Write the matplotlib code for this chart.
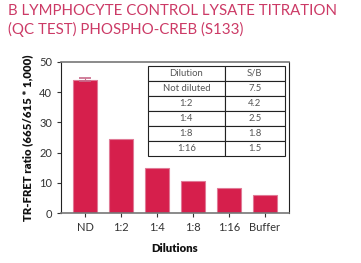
import matplotlib
matplotlib.use("Agg")
import matplotlib.pyplot as plt
import numpy as np

categories = ["ND", "1:2", "1:4", "1:8", "1:16", "Buffer"]
values = [44.2, 24.6, 14.8, 10.6, 8.4, 5.9]
nd_error = 0.6
table_dilution = ["Not diluted", "1:2", "1:4", "1:8", "1:16"]
table_sb = ["7.5", "4.2", "2.5", "1.8", "1.5"]

plt.rcParams['font.family'] = ['Lato', 'DejaVu Sans']

fig = plt.figure(figsize=(3.61, 2.63), dpi=100)
ax = fig.add_axes([61/361, 50/263, 228/361, 151/263])

x = np.arange(len(categories))
ax.bar(x, values, width=0.67, color="#d61f4c", edgecolor="#e07a96", linewidth=0.8)
ax.errorbar(x[0], values[0], yerr=nd_error, fmt="none", ecolor="#c86a8a",
            capsize=4, elinewidth=0.8, capthick=1.2)
ax.set_xlim(-0.67, 5.67)
ax.set_ylim(0, 50)
ax.set_yticks([0, 10, 20, 30, 40, 50])
ax.set_xticks(x)
ax.set_xticklabels(categories)
ax.tick_params(labelsize=8, colors="#333333", length=3, width=0.8)
for s in ["top", "bottom"]:
    ax.spines[s].set_color("#777777")
    ax.spines[s].set_linewidth(1.2)
ax.spines["left"].set_color("#222222")
ax.spines["right"].set_color("#222222")
ax.set_ylabel("TR-FRET ratio (665/615 * 1,000)", fontsize=8.2, fontweight="heavy", color="#111111", labelpad=4)
ax.set_xlabel("Dilutions", fontsize=8.2, fontweight="heavy", color="#111111", labelpad=7)

cell_text = [["Dilution", "S/B"]] + [[d, s] for d, s in zip(table_dilution, table_sb)]
tb = ax.table(cellText=cell_text, cellLoc="center",
              bbox=[(148-61)/228, (213-156)/151, (285-148)/228, 90/151],
              colWidths=[0.56, 0.44])
tb.auto_set_font_size(False)
for (r, c), cell in tb.get_celld().items():
    cell.set_fontsize(6.8)
    cell.set_edgecolor("#222222")
    cell.set_linewidth(0.8)
    cell.get_text().set_color("#555555")

fig.text(8/361, 1 - 4/263, "B LYMPHOCYTE CONTROL LYSATE TITRATION\n(QC TEST) PHOSPHO-CREB (S133)",
         ha="left", va="top", fontsize=10.8, color="#cc3a66", linespacing=1.35)

fig.savefig("out.png", dpi=100)
